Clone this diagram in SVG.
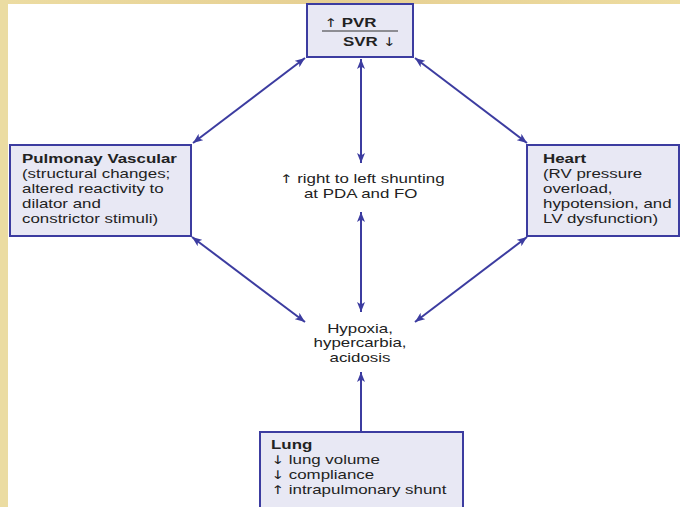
<svg xmlns="http://www.w3.org/2000/svg" width="680" height="507" viewBox="0 0 680 507">
<defs>
<style>
.box{fill:#e8e8f4;stroke:#3c3ca0;stroke-width:2}
.t{font-family:"Liberation Sans",Arial,sans-serif;font-size:13px;fill:#222}
.b{font-weight:bold}
.ar{font-family:"DejaVu Sans",sans-serif;font-weight:normal;font-size:12px}
.c{stroke:#3c3ca0;stroke-width:2;fill:none}
</style>
<marker id="ah" viewBox="0 0 10 8" refX="10" refY="4" markerWidth="10" markerHeight="8" markerUnits="userSpaceOnUse" orient="auto-start-reverse">
<path d="M0,0 L10,4 L0,8 L2.5,4 Z" fill="#3c3ca0"/>
</marker>
<linearGradient id="tg" x1="0" x2="1" y1="0" y2="0">
<stop offset="0" stop-color="#ecdca2"/>
<stop offset="0.5" stop-color="#e6cf92"/>
<stop offset="1" stop-color="#eddca0"/>
</linearGradient>
</defs>
<rect x="0" y="0" width="680" height="507" fill="#ffffff"/>
<rect x="0" y="0" width="680" height="4" fill="url(#tg)"/>
<rect x="0" y="0" width="8" height="507" fill="#ebdca2"/>

<g id="connectors">
<line class="c" x1="361" y1="59" x2="361" y2="163" marker-start="url(#ah)" marker-end="url(#ah)"/>
<line class="c" x1="361" y1="212" x2="361" y2="312" marker-start="url(#ah)" marker-end="url(#ah)"/>
<line class="c" x1="361" y1="432" x2="361" y2="372" marker-end="url(#ah)"/>
<line class="c" x1="305" y1="58" x2="193" y2="143" marker-start="url(#ah)" marker-end="url(#ah)"/>
<line class="c" x1="415" y1="58" x2="527" y2="143" marker-start="url(#ah)" marker-end="url(#ah)"/>
<line class="c" x1="192" y1="237" x2="305" y2="322" marker-start="url(#ah)" marker-end="url(#ah)"/>
<line class="c" x1="527" y1="237" x2="415" y2="322" marker-start="url(#ah)" marker-end="url(#ah)"/>
</g>

<g id="ratio">
<rect class="box" x="307" y="4" width="106" height="53"/>
<text class="t b" transform="translate(324 27) scale(1.3 1)"><tspan class="ar">↑</tspan> PVR</text>
<line x1="322" y1="31" x2="398" y2="31" stroke="#333" stroke-width="1"/>
<text class="t b" transform="translate(343 46) scale(1.3 1)">SVR <tspan class="ar">↓</tspan></text>
</g>

<g id="pulmonary">
<rect class="box" x="10" y="145" width="181" height="91"/>
<g transform="translate(22 0) scale(1.3 1)">
<text class="t" x="0" y="163"><tspan class="b">Pulmonay Vascular</tspan><tspan x="0" dy="15">(structural changes;</tspan><tspan x="0" dy="15">altered reactivity to</tspan><tspan x="0" dy="15">dilator and</tspan><tspan x="0" dy="15">constrictor stimuli)</tspan></text>
</g>
</g>

<g id="heart">
<rect class="box" x="527" y="145" width="152" height="91"/>
<g transform="translate(543 0) scale(1.3 1)">
<text class="t" x="0" y="163"><tspan class="b">Heart</tspan><tspan x="0" dy="15">(RV pressure</tspan><tspan x="0" dy="15">overload,</tspan><tspan x="0" dy="15">hypotension, and</tspan><tspan x="0" dy="15">LV dysfunction)</tspan></text>
</g>
</g>

<g id="shunting">
<g transform="translate(362 0) scale(1.3 1)">
<text class="t" x="0" y="183" text-anchor="middle"><tspan class="ar">↑</tspan> right to left shunting</text>
<text class="t" x="-1" y="198" text-anchor="middle">at PDA and FO</text>
</g>
</g>

<g id="hypoxia">
<g transform="translate(360 0) scale(1.3 1)">
<text class="t" x="0" y="333" text-anchor="middle">Hypoxia,</text>
<text class="t" x="0" y="347.5" text-anchor="middle">hypercarbia,</text>
<text class="t" x="0" y="362" text-anchor="middle">acidosis</text>
</g>
</g>

<g id="lung">
<rect class="box" x="260" y="432" width="203" height="80"/>
<g transform="translate(271 0) scale(1.3 1)">
<text class="t" x="0" y="449"><tspan class="b">Lung</tspan><tspan x="0" dy="15"><tspan class="ar">↓</tspan> lung volume</tspan><tspan x="0" dy="15"><tspan class="ar">↓</tspan> compliance</tspan><tspan x="0" dy="15"><tspan class="ar">↑</tspan> intrapulmonary shunt</tspan></text>
</g>
</g>
</svg>
